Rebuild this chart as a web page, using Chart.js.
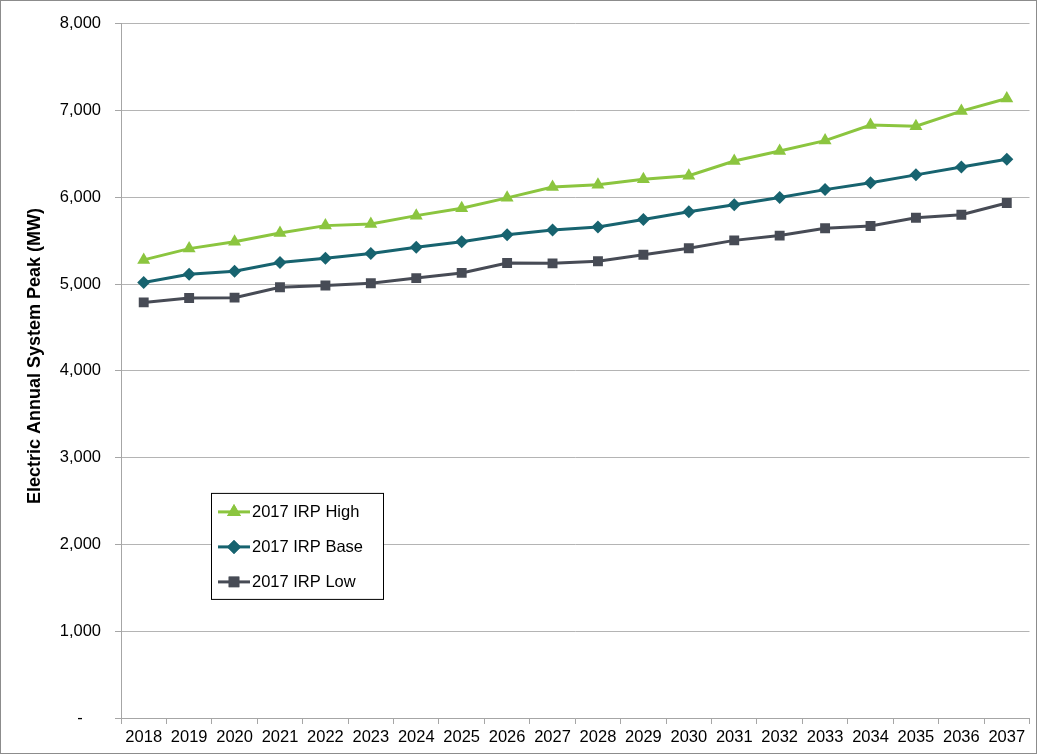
<!DOCTYPE html>
<html>
<head>
<meta charset="utf-8">
<script src="https://cdn.jsdelivr.net/npm/chart.js@4.4.1/dist/chart.umd.min.js"></script>
<style>
  html, body { margin: 0; padding: 0; background: #fff; }
  #wrap { width: 1037px; height: 754px; }
</style>
</head>
<body>
<div id="wrap"><canvas id="peak-chart" width="1037" height="754"></canvas></div>
<script>
// Electric annual system peak forecast (MW), 2017 IRP scenarios
const years = ['2018', '2019', '2020', '2021', '2022', '2023', '2024', '2025', '2026', '2027',
               '2028', '2029', '2030', '2031', '2032', '2033', '2034', '2035', '2036', '2037'];

const irpHigh = [5280, 5410, 5490, 5590, 5675, 5695, 5790, 5875, 5995, 6120,
                 6145, 6210, 6250, 6420, 6535, 6655, 6835, 6820, 6995, 7140];
const irpBase = [5020, 5115, 5150, 5250, 5300, 5355, 5425, 5490, 5570, 5625,
                 5660, 5745, 5835, 5915, 6000, 6090, 6170, 6260, 6350, 6440];
const irpLow = [4790, 4840, 4845, 4965, 4985, 5010, 5070, 5130, 5245, 5240,
                5265, 5340, 5415, 5505, 5560, 5645, 5670, 5765, 5800, 5935];

const seriesNames = ['2017 IRP High', '2017 IRP Base', '2017 IRP Low'];

const COLORS = {
    high: '#8bc53f',
    base: '#17636f',
    low: '#474b55',
    grid: '#b4b4b4',
    axis: '#a6a6a6'
};

const FONT = "'Liberation Sans', Arial, sans-serif";

function formatMW(value) {
    if (value === 0) return '-    ';
    return value.toLocaleString('en-US');
}

// white background and thin frame around the whole picture
const framePlugin = {
    id: 'frame',
    beforeDraw(chart) {
        const ctx = chart.ctx;
        ctx.save();
        ctx.fillStyle = '#ffffff';
        ctx.fillRect(0, 0, chart.width, chart.height);
        ctx.restore();
    },
    afterDraw(chart) {
        const ctx = chart.ctx;
        ctx.save();
        ctx.strokeStyle = '#8c8c8c';
        ctx.lineWidth = 1;
        ctx.strokeRect(0.5, 0.5, chart.width - 1, chart.height - 1);
        ctx.restore();
    }
};

// boxed legend sitting inside the plot, each entry is line + marker + name
const insetLegend = {
    id: 'insetLegend',
    afterDatasetsDraw(chart) {
        const ctx = chart.ctx;
        const area = chart.chartArea;
        const x0 = area.left + 90;
        const y0 = area.top + 469;
        const w = 172;
        const h = 106;

        ctx.save();
        ctx.fillStyle = '#ffffff';
        ctx.fillRect(x0, y0, w, h);
        ctx.strokeStyle = '#000000';
        ctx.lineWidth = 1;
        ctx.strokeRect(x0 + 0.5, y0 + 0.5, w, h);

        chart.data.datasets.forEach((ds, i) => {
            const cy = y0 + 19 + i * 35;
            ctx.strokeStyle = ds.borderColor;
            ctx.lineWidth = 3;
            ctx.beginPath();
            ctx.moveTo(x0 + 7, cy);
            ctx.lineTo(x0 + 39, cy);
            ctx.stroke();
            ctx.fillStyle = ds.pointBackgroundColor;
            ctx.beginPath();
            Chart.helpers.drawPoint(ctx, {
                pointStyle: ds.pointStyle,
                radius: ds.pointRadius + 0.5,
                borderWidth: 0
            }, x0 + 23, cy);
            ctx.fill();

            ctx.fillStyle = '#000000';
            ctx.font = `16.5px ${FONT}`;
            ctx.textBaseline = 'middle';
            ctx.textAlign = 'left';
            ctx.fillText(ds.label, x0 + 41, cy + 1);
        });
        ctx.restore();
    }
};

function makeSeries(label, data, color, style, radius) {
    return {
        label: label,
        data: data,
        borderColor: color,
        backgroundColor: color,
        pointBackgroundColor: color,
        pointBorderColor: color,
        pointBorderWidth: 0,
        borderWidth: 3,
        pointStyle: style,
        pointRadius: radius,
        pointHoverRadius: radius,
        tension: 0,
        fill: false
    };
}

const ctx = document.getElementById('peak-chart').getContext('2d');

new Chart(ctx, {
    type: 'line',
    data: {
        labels: years,
        datasets: [
            makeSeries(seriesNames[0], irpHigh, COLORS.high, 'triangle', 7.5),
            makeSeries(seriesNames[1], irpBase, COLORS.base, 'rectRot', 6.5),
            makeSeries(seriesNames[2], irpLow, COLORS.low, 'rect', 7)
        ]
    },
    options: {
        responsive: false,
        animation: false,
        devicePixelRatio: 1,
        layout: {
            padding: { top: 22, right: 6, bottom: 0, left: 0 }
        },
        plugins: {
            legend: { display: false },
            tooltip: { enabled: false }
        },
        scales: {
            x: {
                type: 'category',
                offset: true,
                afterFit(scale) { scale.height = 36; },
                grid: {
                    offset: true,
                    drawOnChartArea: false,
                    drawTicks: true,
                    tickLength: 6,
                    color: COLORS.axis
                },
                border: { display: true, color: COLORS.axis, width: 1 },
                ticks: {
                    color: '#000000',
                    font: { family: FONT, size: 16.5 },
                    maxRotation: 0,
                    autoSkip: false,
                    padding: 4
                }
            },
            y: {
                min: 0,
                max: 8000,
                afterFit(scale) { scale.width = 121; },
                grid: {
                    color: COLORS.grid,
                    drawTicks: true,
                    tickLength: 6,
                    tickColor: COLORS.axis
                },
                border: { display: true, color: COLORS.axis, width: 1 },
                ticks: {
                    stepSize: 1000,
                    color: '#000000',
                    font: { family: FONT, size: 16.5 },
                    padding: 14,
                    callback: (v) => formatMW(v)
                },
                title: {
                    display: true,
                    // leading spaces nudge the rotated title a little above centre
                    text: '      Electric Annual System Peak (MW)',
                    color: '#000000',
                    font: { family: FONT, size: 18, weight: 'bold' },
                    padding: { top: 24, bottom: 0 }
                }
            }
        }
    },
    plugins: [framePlugin, insetLegend]
});
</script>
</body>
</html>
